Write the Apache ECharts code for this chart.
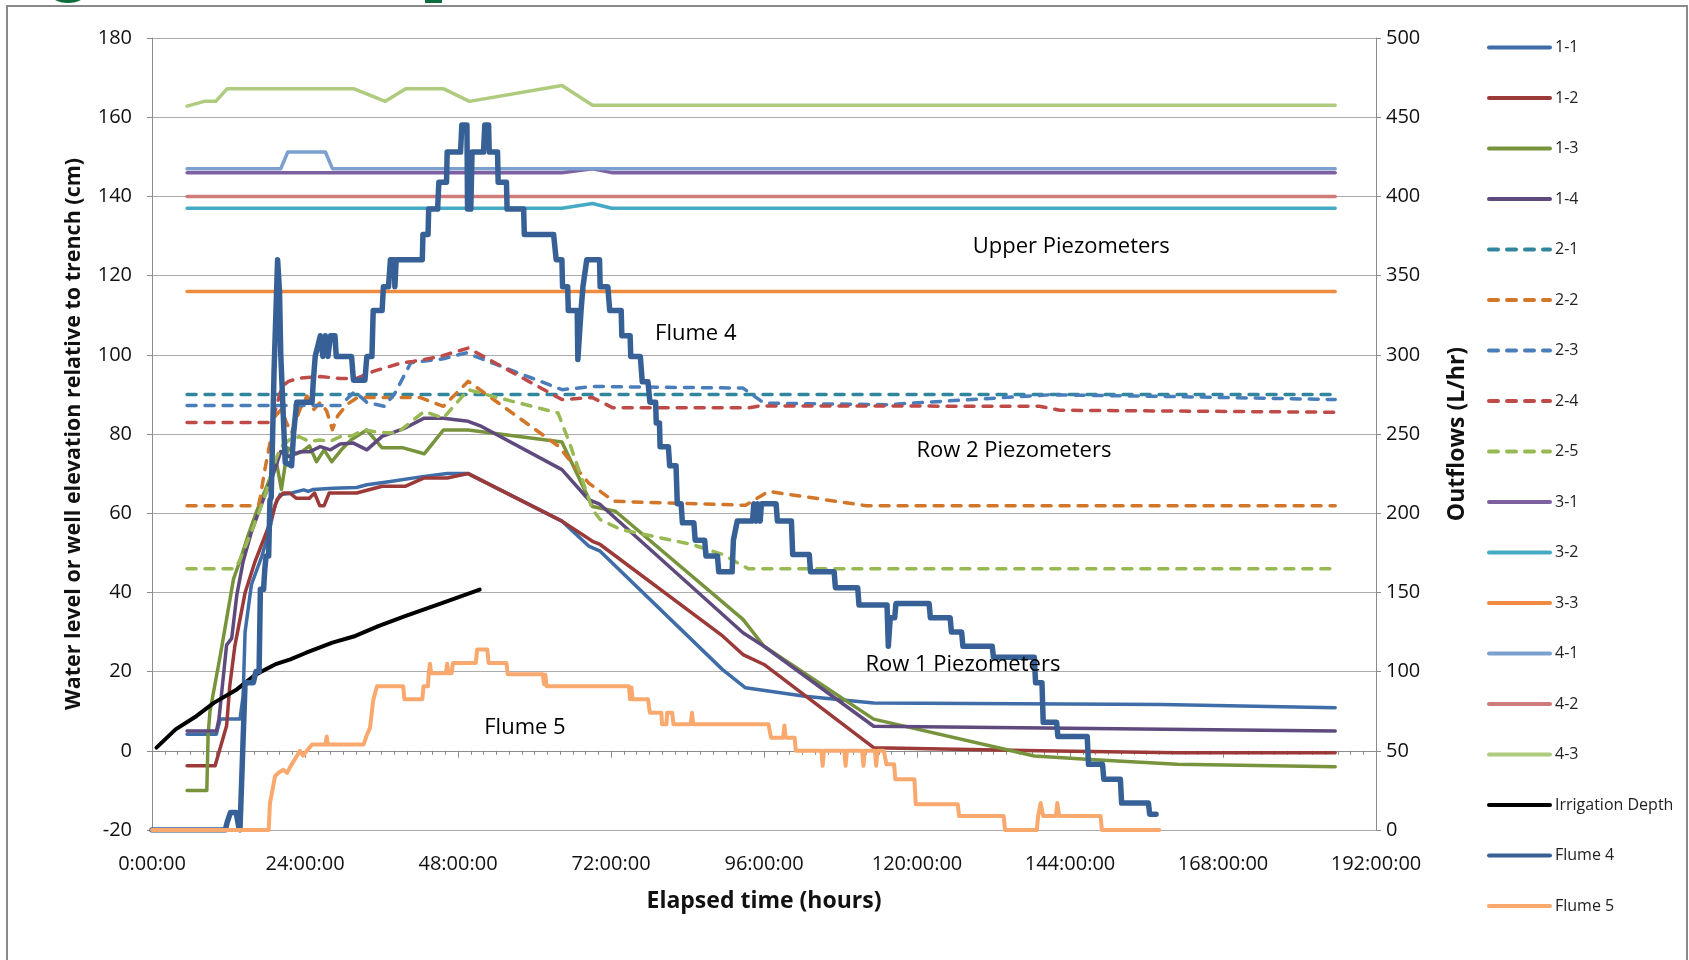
<!DOCTYPE html>
<html><head><meta charset="utf-8">
<script src="https://cdn.jsdelivr.net/npm/echarts@6/dist/echarts.min.js"></script>
<style>html,body{margin:0;padding:0;background:#fff;}#c{width:1689px;height:960px;}</style>
</head><body><div id="c"></div>
<script>
// ---- data: [elapsed hours, value] ----
const xTickHours = [0, 24, 48, 72, 96, 120, 144, 168, 192];
const p11 = [[5.5,4.2],[10.1,4.2],[10.7,8],[13.8,8],[14.3,14],[14.6,30],[15.6,42],[17.2,49],[18.3,55],[19.3,62],[20.1,64.7],[21.6,65],[23.8,65.9],[24.5,65.5],[25.3,66],[28.4,66.3],[32.1,66.5],[33.7,67.2],[37.4,68],[42.7,69.3],[46.3,70],[49.6,70],[64.3,58],[68.5,51.7],[70.3,50.4],[89.5,20.5],[93.1,15.9],[102.4,13.8],[113.2,12.1],[158.4,11.7],[185.6,10.9]];
const p12 = [[5.5,-3.8],[9.9,-3.8],[11.7,6.3],[12.2,16.4],[13,26.5],[14.6,39.9],[16.1,47.5],[18.5,57.5],[19.6,63.4],[20.6,65.1],[21.6,65.1],[22.6,63.8],[24.7,63.8],[25.5,65.1],[26.3,61.9],[27,61.9],[27.8,65.1],[32.1,65.1],[36.1,66.8],[39.7,66.8],[42.7,68.9],[46.3,68.9],[49.6,70],[64.3,58],[69.1,52.9],[70.3,52.1],[89.5,29],[92.7,24.3],[96,21.8],[113.2,0.8],[139.2,0],[160.8,-0.5],[185.6,-0.5]];
const p13 = [[5.5,-10],[8.6,-10],[8.8,4],[9.1,10],[10.7,24],[12.8,43.5],[13.8,48],[15.1,54.5],[16.4,60.4],[18.5,68.8],[19.5,73],[20.3,66],[21.3,76.5],[22.6,75],[23.5,75.5],[24.7,77],[25.8,73],[27,76],[28.2,73],[29.7,76],[31.3,78.6],[33.7,81],[36.1,76.5],[39.4,76.5],[42.7,75],[45.7,81],[49.6,81],[64.3,78],[69.1,61.7],[72.7,60.5],[92.7,33.2],[96,26.4],[113.2,8],[138.4,-1.3],[147.2,-2.2],[160.8,-3.4],[185.6,-4]];
const p14 = [[5.5,5],[10.1,5],[10.5,8],[11.7,26.7],[12.5,28.4],[13.3,39.3],[14.3,47.8],[15.6,55.3],[17.5,63.7],[18.8,68.8],[20.2,75.6],[21.4,74.3],[23.2,75.5],[24.7,75.5],[26.4,76.8],[28,76],[29.5,77.5],[31.6,77.7],[33.7,76],[36.1,79.4],[39.7,81.5],[42.7,84],[45.7,84],[49.6,83.2],[51.7,81.9],[64.3,71],[68.5,63.4],[70.3,62.2],[92.7,29.8],[96,26.4],[113.2,6.2],[185.6,5]];
const p21 = [[5.5,90],[185.6,90]];
const p22 = [[5.5,61.9],[16.7,61.9],[17,64.2],[17.7,71],[18.5,77.7],[19.3,84.5],[20.3,86.2],[21.1,82.8],[21.9,80.3],[23.2,86.2],[24.3,89.6],[25.4,86.2],[26.4,88],[27.4,85.8],[28.3,81.1],[29.1,84.5],[30.6,87.5],[32.2,89.2],[42.1,89.2],[45.7,87],[49.6,93.3],[63.7,77],[68.5,67.6],[72.5,63],[93.1,62],[96.7,65.5],[112,61.9],[185.6,61.9]];
const p23 = [[5.5,87.2],[29.5,87.2],[31.8,90.7],[33.7,88],[36.4,87],[38,90],[40.6,98],[45.7,99],[49.3,100.5],[64.3,91.2],[69.1,92],[80,91.8],[92.7,91.6],[96,87.8],[115.2,87.4],[140.8,89.9],[158.4,89.5],[185.6,88.7]];
const p24 = [[5.5,82.9],[18.8,82.9],[20.4,92],[21.4,93.3],[23,94.1],[26.4,94.5],[29.6,94],[32,94],[34.7,95.8],[39,97.9],[40.9,98.3],[45,99.5],[49.6,101.7],[64.3,88.7],[69.1,89.2],[72.3,86.6],[93.5,86.6],[95.5,87.1],[139.2,87],[142.4,86],[185.6,85.5]];
const p25 = [[5.5,46],[13,46],[13.8,48.2],[15.9,56.6],[17.5,63.4],[18.5,68.5],[19.5,74],[20.3,76.8],[21.5,78.5],[23.1,79.3],[24.7,78.1],[26.3,78.5],[27.9,78.1],[29.5,79.3],[31.5,79.6],[33.2,81.1],[34.8,80.6],[36.9,80.3],[38.5,80.3],[42.7,85.7],[45.7,84],[49.6,91.2],[52.3,90],[63.7,85.3],[65.5,77.7],[69.1,60.9],[70.3,58.4],[73.5,55.9],[84.7,52.1],[89.5,49.6],[93.5,46],[185.6,46]];
const p31 = [[5.5,146],[64.3,146],[69.1,147],[72.1,146],[185.6,146]];
const p32 = [[5.5,137],[64.3,137],[69.1,138.2],[72.1,137],[185.6,137]];
const p33 = [[5.5,116],[185.6,116]];
const p41 = [[5.5,147],[20.2,147],[21.3,151.2],[27.2,151.2],[28.3,147],[185.6,147]];
const p42 = [[5.5,140],[185.6,140]];
const p43 = [[5.5,162.8],[8.2,164],[10,164],[11.8,167.2],[31.6,167.2],[36.6,164],[39.8,167.2],[45.7,167.2],[49.8,164],[64.3,168],[69.1,163],[185.6,163]];
const irrigation = [[0.7,0.8],[3.7,5.4],[7,8.8],[9.7,12.1],[13.3,15.5],[16.3,19.3],[19.3,21.8],[21.7,23.1],[24.1,24.7],[28.3,27.3],[31.9,29],[35.5,31.5],[39.7,34],[45.7,37.4],[51.4,40.7]];
// outflows, L/hr (right axis)
const flume4 = [[0,0],[11.5,0],[11.8,5],[12.3,11],[13.2,11],[13.6,2],[13.8,0],[14.6,93],[15.9,93],[16.3,100],[16.8,100],[17,152],[17.5,152],[17.7,165],[17.9,173],[18.3,173],[18.5,208],[18.7,210],[19.15,290],[19.7,360],[20.0,340],[20.2,300],[20.9,232],[21.9,230],[22.2,250],[22.7,270],[25.1,270],[25.3,283],[25.6,299],[26.4,312],[26.8,299],[27.2,312],[27.6,299],[28,312],[28.7,312],[28.9,299],[31.3,299],[31.6,284],[33.4,284],[33.7,299],[34.5,299],[34.7,328],[36.1,328],[36.3,343],[37.1,343],[37.4,360],[38,360],[38.1,343],[38.3,360],[42.4,360],[42.5,376],[43.3,376],[43.4,392],[44.8,392],[45,409],[46.2,409],[46.3,428],[48.4,428],[48.6,445],[49.4,445],[49.5,392],[50,392],[50.1,409],[50.2,428],[52,428],[52.2,445],[52.8,445],[52.9,428],[54.2,428],[54.3,409],[55.6,409],[55.7,392],[58.3,392],[58.4,376],[63,376],[63.4,360],[64.3,360],[64.4,343],[65.2,343],[65.3,328],[66.7,328],[66.8,297],[66.9,297],[67.3,328],[67.6,343],[68.2,360],[70.2,360],[70.3,343],[71.5,343],[71.8,328],[73.6,328],[73.7,312],[75,312],[75.1,299],[76.6,299],[76.9,283],[77.8,283],[78.1,270],[79,270],[79.1,257],[79.6,257],[79.7,242],[81,242],[81.2,230],[82.2,230],[82.4,206],[83,206],[83.2,194],[85,194],[85.2,183],[86.7,183],[86.9,173],[88.7,173],[88.9,163],[91,163],[91.2,183],[91.8,195],[94.2,195],[94.4,206],[94.8,195],[95,206],[95.4,195],[95.6,206],[97.9,206],[98.1,195],[100.3,195],[100.5,174],[103.1,174],[103.3,163],[107,163],[107.2,153],[110.7,153],[110.9,142],[115.3,142],[115.5,116],[115.8,134],[116.5,134],[116.7,143],[121.9,143],[122.1,134],[125.2,134],[125.4,125],[127,125],[127.2,116],[131.8,116],[132,109],[138.4,109],[138.6,93],[139.6,93],[139.8,68],[141.9,68],[142.1,59],[146.7,59],[146.9,41.5],[149.1,41.5],[149.3,32],[151.9,32],[152.1,17],[156.3,17],[156.5,10],[157.5,10]];
const flume5 = [[0,0],[18.3,0],[18.5,17],[18.8,23],[19.3,34],[19.8,36],[20.6,38],[21.2,36],[21.7,40],[22.7,46.6],[23.2,50],[23.7,47],[24.3,50],[25.1,54],[27.2,54],[27.4,59],[27.6,54],[33.2,54],[33.7,60],[34.2,64.5],[34.7,82],[35.3,90.8],[39.4,90.8],[39.6,82.5],[42.4,82.5],[42.6,90.8],[43.3,90.8],[43.4,99],[43.6,105],[43.8,99],[46.1,99],[46.3,105],[46.5,99],[47,99],[47.2,105.5],[50.8,105.5],[51,114],[52.6,114],[52.8,105.5],[55.6,105.5],[55.8,98.3],[61.3,98.3],[61.5,92],[61.7,98],[61.9,90.8],[74.8,90.8],[75,82.5],[75.2,90],[75.4,82.5],[77.8,82.5],[78.1,74],[79.9,74],[80,66.8],[80.7,66.8],[80.8,74],[81.6,74],[81.8,66.8],[84.5,66.8],[84.7,74],[84.9,66.8],[96.7,66.8],[97.1,58.3],[99,58.3],[99.2,66],[99.4,58.3],[100.8,58.3],[101,50],[105,50],[105.2,40.5],[105.4,50],[108.6,50],[108.8,40.5],[109,50],[111.4,50],[111.6,40.5],[111.8,50],[113.4,50],[113.6,40.5],[113.8,50],[114.8,50],[115.2,41.5],[116.4,41.5],[116.6,32],[119.6,32],[119.8,16.3],[126.4,16.3],[126.6,8.8],[133.6,8.8],[133.8,0],[138.8,0],[139,8.8],[139.4,17],[139.8,8.8],[141.8,8.8],[142,17],[142.3,8.8],[148.8,8.8],[149,0],[158,0]];
const annotations = [
  {name:'Upper Piezometers', value:[144.2,127.3]},
  {name:'Flume 4', value:[85.3,105.3]},
  {name:'Row 2 Piezometers', value:[135.2,75.9]},
  {name:'Row 1 Piezometers', value:[127.2,21.8]},
  {name:'Flume 5', value:[58.5,5.8]}
];
const seriesNames = ['1-1','1-2','1-3','1-4','2-1','2-2','2-3','2-4','2-5','3-1','3-2','3-3','4-1','4-2','4-3','Irrigation Depth','Flume 4','Flume 5'];
const seriesData = [p11,p12,p13,p14,p21,p22,p23,p24,p25,p31,p32,p33,p41,p42,p43,irrigation,flume4,flume5];

// ---- styles ----
const colors = ['#3E6DA8','#9B3A38','#77933C','#5F4A7E','#31869D','#D2762A','#4A7EBB','#BE4B48','#98B954','#7D60A0','#46AAC5','#F08A3E','#7B9FCF','#CF7B79','#AFCB7E','#000000','#376196','#F9A86E'];
const dashed = [false,false,false,false,true,true,true,true,true,false,false,false,false,false,false,false,false,false];
const widths = [3.5,3.5,3.5,3.5,3.5,3.5,3.5,3.5,3.5,3.5,3.5,3.5,3.5,3.5,3.5,4,5.5,4];
const FONT = '"Open Sans", "Noto Sans", sans-serif';

const chart = echarts.init(document.getElementById('c'), null, {renderer:'canvas'});
const series = seriesNames.map((n,i)=>({
  name:n, type:'line', data:seriesData[i], yAxisIndex: i>=16 ? 1 : 0,
  symbol:'none', showSymbol:false, animation:false,
  lineStyle:{color:colors[i], width:widths[i], type: dashed[i] ? [9,9] : 'solid', cap:'round', join:'round'},
  itemStyle:{color:colors[i]}
}));
series.push({
  name:'labels', type:'scatter', yAxisIndex:0, data:annotations, symbolSize:1,
  itemStyle:{color:'#ffffff', opacity:1}, silent:true, z:10, animation:false,
  label:{show:true, position:'inside', formatter:'{b}', color:'#000', opacity:1, textBorderWidth:0, fontSize:22, fontFamily:FONT}
});

chart.setOption({
  backgroundColor:'#fff',
  animation:false,
  graphic:[
    {type:'rect', silent:true, z:-10, shape:{x:7, y:6, width:1680, height:980}, style:{fill:'transparent', stroke:'#8a8a8a', lineWidth:2}},
    {type:'ellipse', silent:true, shape:{cx:68, cy:-7, rx:18, ry:10}, style:{fill:'#0E6B3B'}},
    {type:'rect', silent:true, shape:{x:425, y:0, width:17, height:3}, style:{fill:'#0E6B3B'}}
  ],
  grid:{left:152, right:313, top:38, bottom:130, containLabel:false},
  legend:{
    orient:'vertical', left:1482, top:34.5, itemWidth:61, itemHeight:14, itemGap:34.5,
    data:seriesNames, selectedMode:false,
    itemStyle:{opacity:0},
    lineStyle:{width:4},
    textStyle:{fontFamily:FONT, fontSize:16, color:'#222'}
  },
  xAxis:{
    type:'value', min:0, max:192, interval:24,
    name:'Elapsed time (hours)', nameLocation:'middle', nameGap:60,
    nameTextStyle:{fontFamily:FONT, fontSize:23, fontWeight:'bold', color:'#111'},
    axisLine:{show:true, lineStyle:{color:'#8c8c8c', width:1}},
    axisTick:{show:true, length:7, lineStyle:{color:'#8c8c8c'}},
    minorTick:{show:true, splitNumber:12, length:4, lineStyle:{color:'#8c8c8c'}},
    splitLine:{show:false},
    axisLabel:{margin:24, fontFamily:FONT, fontSize:20, color:'#111', formatter:(v)=> v + ':00:00'}
  },
  yAxis:[{
    type:'value', min:-20, max:180, interval:20, position:'left',
    name:'Water level or well elevation relative to trench (cm)', nameLocation:'middle', nameGap:67, nameRotate:90,
    nameTextStyle:{fontFamily:FONT, fontSize:21.5, fontWeight:'bold', color:'#111'},
    axisLine:{show:true, lineStyle:{color:'#8c8c8c', width:1}},
    axisTick:{show:true, length:5, lineStyle:{color:'#8c8c8c'}},
    splitLine:{show:true, lineStyle:{color:'#ababab', width:1}},
    axisLabel:{margin:20, fontFamily:FONT, fontSize:20, color:'#111'}
  },{
    type:'value', min:0, max:500, interval:50, position:'right',
    name:'Outflows (L/hr)', nameLocation:'middle', nameGap:70, nameRotate:90,
    nameTextStyle:{fontFamily:FONT, fontSize:23, fontWeight:'bold', color:'#111'},
    axisLine:{show:true, lineStyle:{color:'#8c8c8c', width:1}},
    axisTick:{show:true, length:5, lineStyle:{color:'#8c8c8c'}},
    splitLine:{show:false},
    axisLabel:{margin:10, fontFamily:FONT, fontSize:20, color:'#111'}
  }],
  series:series
});
</script>
</body></html>
